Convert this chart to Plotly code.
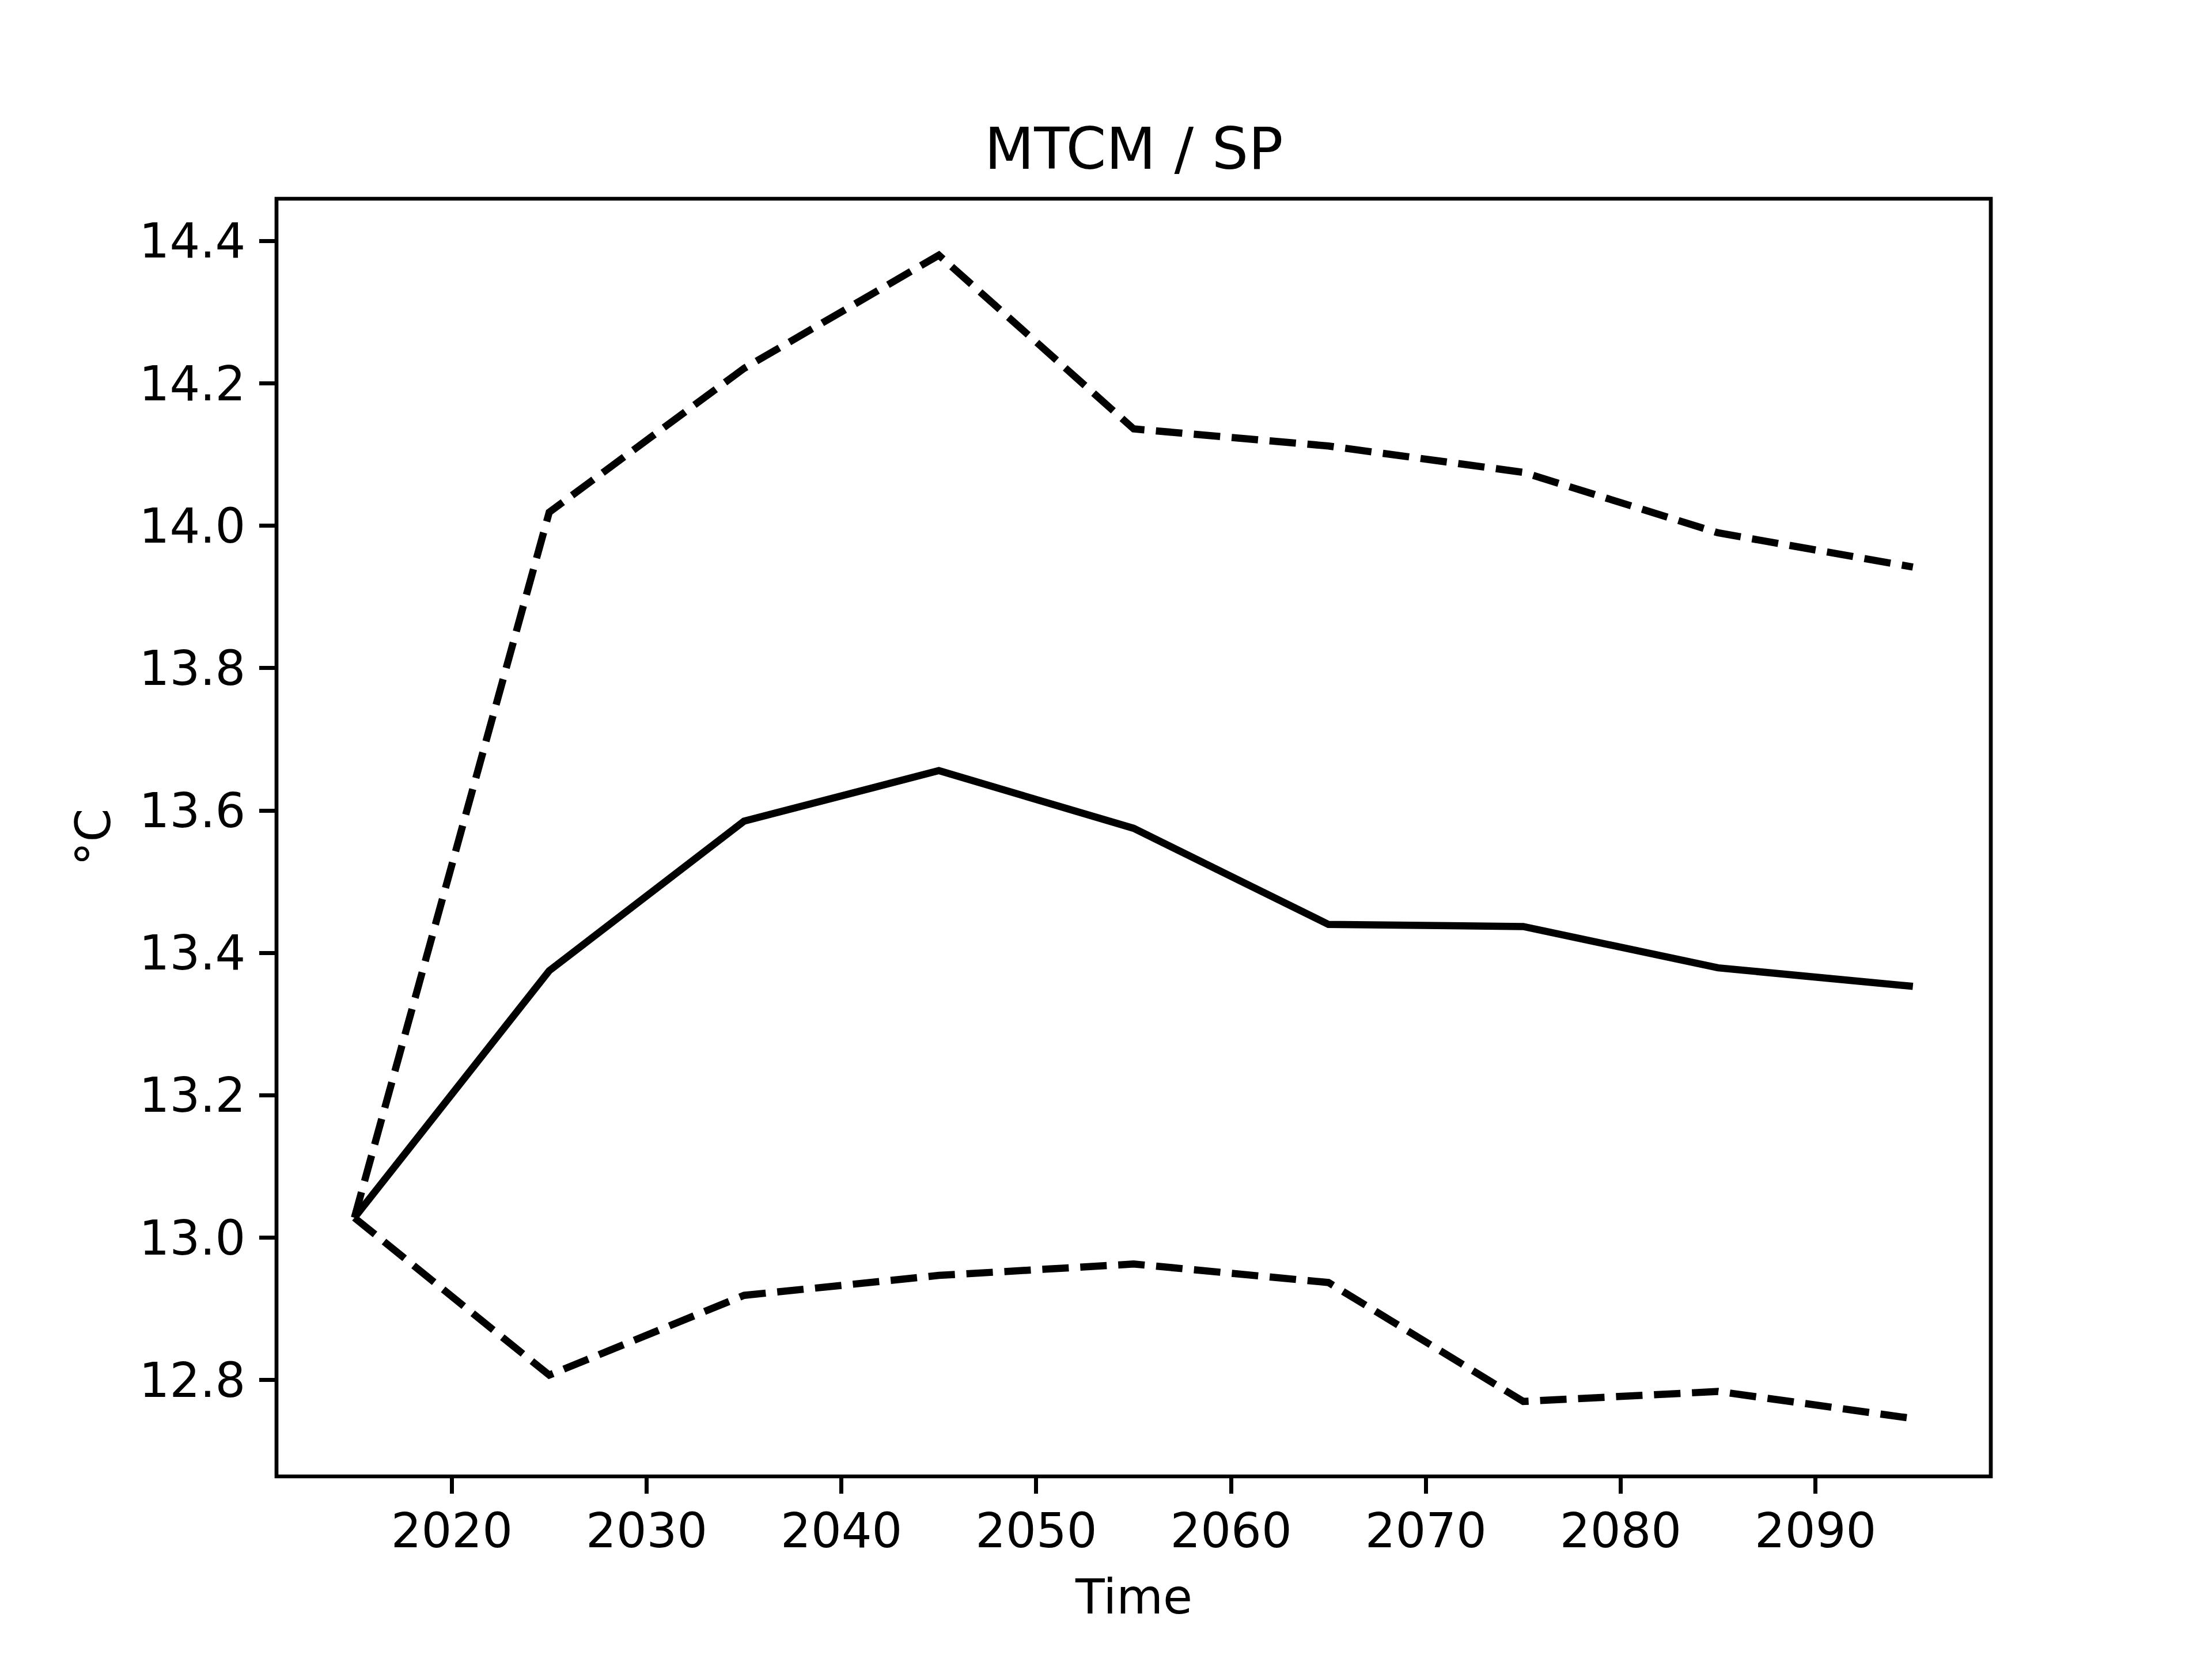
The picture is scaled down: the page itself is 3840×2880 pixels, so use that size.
import plotly.graph_objects as go

years = [2015, 2025, 2035, 2045, 2055, 2065, 2075, 2085, 2095]
mean_vals = [13.028, 13.375, 13.585, 13.656, 13.575, 13.440, 13.437, 13.379, 13.353]
upper_vals = [13.028, 14.019, 14.221, 14.380, 14.136, 14.112, 14.075, 13.990, 13.942]
lower_vals = [13.028, 12.807, 12.919, 12.947, 12.963, 12.937, 12.770, 12.784, 12.746]

x_ticks = [2020, 2030, 2040, 2050, 2060, 2070, 2080, 2090]
y_ticks = [12.8, 13.0, 13.2, 13.4, 13.6, 13.8, 14.0, 14.2, 14.4]

title_text = "MTCM / SP"
x_label = "Time"
y_label = "°C"

FONT = "DejaVu Sans"
LW = 12.5
DASH = "46px,20px"

fig = go.Figure()
fig.add_trace(go.Scatter(x=years, y=upper_vals, mode="lines",
                         line=dict(color="black", width=LW, dash=DASH), showlegend=False))
fig.add_trace(go.Scatter(x=years, y=mean_vals, mode="lines",
                         line=dict(color="black", width=LW), showlegend=False))
fig.add_trace(go.Scatter(x=years, y=lower_vals, mode="lines",
                         line=dict(color="black", width=LW, dash=DASH), showlegend=False))

axis_common = dict(
    showgrid=False, zeroline=False, showline=False,
    ticks="outside", ticklen=29, tickwidth=6.7, tickcolor="black",
    tickfont=dict(family=FONT, size=83, color="black"),
)

fig.update_layout(
    width=3840, height=2880,
    paper_bgcolor="white", plot_bgcolor="white",
    margin=dict(l=472, r=392, t=337, b=325),
    font=dict(family=FONT, color="black"),
    xaxis=dict(range=[2011, 2099], tickvals=x_ticks, ticklabelstandoff=-7,
               ticktext=[str(v) for v in x_ticks], **axis_common),
    yaxis=dict(range=[12.6647, 14.4593], tickvals=y_ticks, ticklabelstandoff=7,
               ticktext=[f"{v:.1f}" for v in y_ticks], **axis_common),
    shapes=[
        dict(type="rect", xref="paper", yref="paper", x0=0, x1=1, y0=0, y1=1,
             line=dict(color="black", width=6.7), fillcolor="rgba(0,0,0,0)",
             layer="above"),
    ],
    annotations=[
        dict(text=title_text, x=0.5, y=1, xref="paper", yref="paper",
             xanchor="center", yanchor="bottom", yshift=26, showarrow=False,
             font=dict(family=FONT, size=100, color="black")),
        dict(text=x_label, x=0.5, y=0, xref="paper", yref="paper",
             xanchor="center", yanchor="middle", yshift=-209, showarrow=False,
             font=dict(family=FONT, size=83, color="black")),
        dict(text=y_label, x=0, y=0.5, xref="paper", yref="paper",
             xanchor="center", yanchor="middle", xshift=-318, textangle=-90,
             showarrow=False, font=dict(family=FONT, size=83, color="black")),
    ],
)

fig.write_html("out.html")
